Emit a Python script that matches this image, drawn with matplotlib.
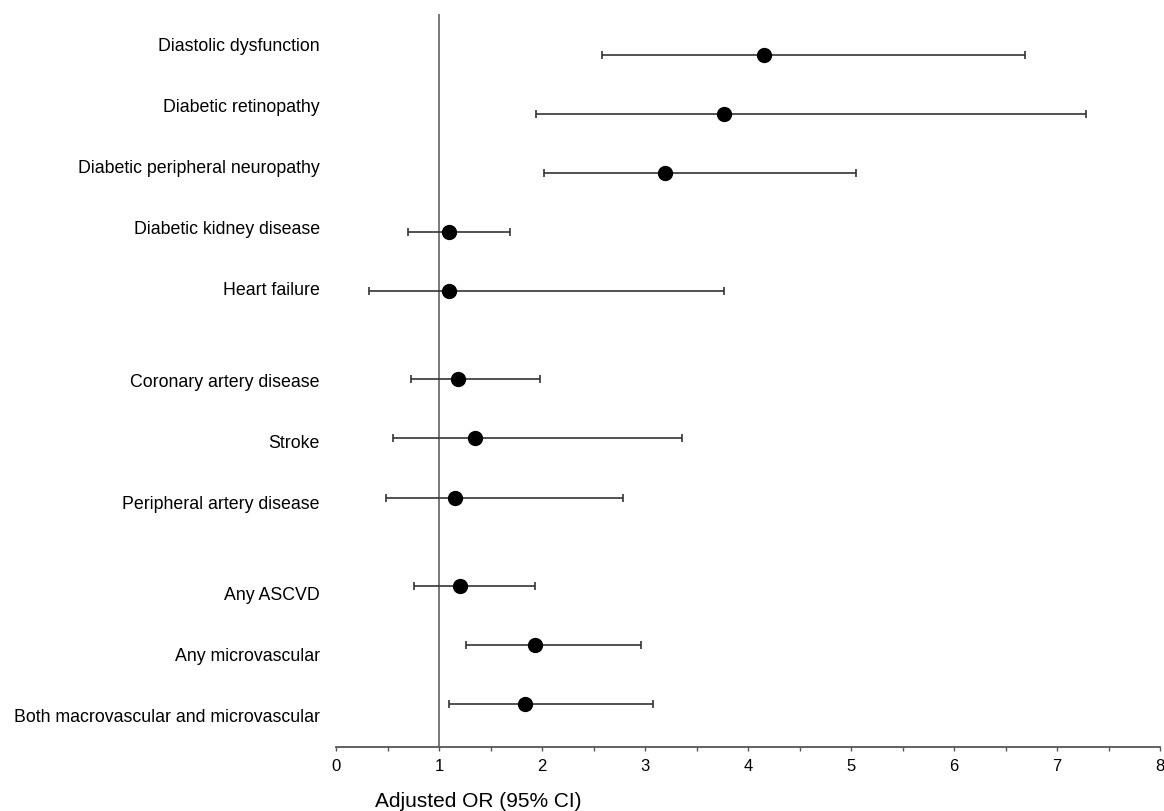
from matplotlib import pyplot as plt
from matplotlib.ticker import MultipleLocator

plt.rcParams['font.family'] = ['Liberation Sans', 'DejaVu Sans']

outcomes = ['Diastolic dysfunction', 'Diabetic retinopathy', 'Diabetic peripheral neuropathy',
            'Diabetic kidney disease', 'Heart failure',
            'Coronary artery disease', 'Stroke', 'Peripheral artery disease',
            'Any ASCVD', 'Any microvascular', 'Both macrovascular and microvascular']

odds_ratio = [4.15, 3.76, 3.19, 1.09, 1.09, 1.18, 1.35, 1.15, 1.20, 1.93, 1.83]
ci_low = [2.58, 1.94, 2.02, 0.70, 0.32, 0.72, 0.55, 0.48, 0.75, 1.26, 1.09]
ci_high = [6.69, 7.28, 5.05, 1.69, 3.76, 1.98, 3.36, 2.78, 1.93, 2.96, 3.08]

# rows, with a blank half-row... actually 1.5 row gap between the groups
rows = [0, 1, 2, 3, 4, 5.5, 6.5, 7.5, 9, 10, 11]

fig = plt.figure(figsize=(11.64, 8.12), dpi=100)
ax = fig.add_axes([0.289, 0.0788, 0.7076, 0.9027])

xerr = [[o - l for o, l in zip(odds_ratio, ci_low)],
        [h - o for o, h in zip(odds_ratio, ci_high)]]
ax.errorbar(odds_ratio, rows, xerr=xerr, fmt='o', color='black', ms=10,
            ecolor='#333333', elinewidth=1.2, capsize=3, capthick=1.2, zorder=3)

ax.axvline(1, color='#555555', lw=1.1, zorder=1)

ax.set_xlim(0, 8)
ax.set_ylim(11.725, -0.688)

# labels are spaced a touch wider than the rows in the original
label_pos = [5.5 + (r - 5.5) * 1.033 for r in rows]
ax.set_yticks(label_pos)
ax.set_yticklabels(outcomes, fontsize=12.8)
ax.tick_params(axis='y', length=0, pad=12)

ax.xaxis.set_major_locator(MultipleLocator(1))
ax.xaxis.set_minor_locator(MultipleLocator(0.5))
ax.tick_params(axis='x', which='both', direction='out', length=3, width=1,
               color='#555555', labelsize=12, pad=5)

for side in ['top', 'right', 'left']:
    ax.spines[side].set_visible(False)
ax.spines['bottom'].set_color('#555555')
ax.spines['bottom'].set_linewidth(1.3)

fig.text(478 / 1164, 0.006, 'Adjusted OR (95% CI)', fontsize=15,
         ha='center', va='baseline')

plt.savefig('out.png', dpi=100)
